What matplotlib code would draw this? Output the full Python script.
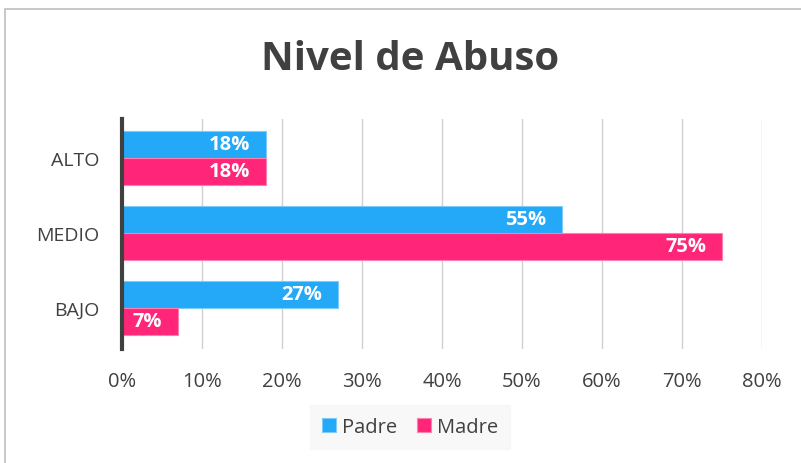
import matplotlib
matplotlib.use("Agg")
import matplotlib.pyplot as plt
import numpy as np
from matplotlib.patches import Rectangle

categories = ["ALTO", "MEDIO", "BAJO"]
padre = [18, 55, 27]
madre = [18, 75, 7]
xticks = [0, 10, 20, 30, 40, 50, 60, 70, 80]
blue = "#24A8F8"
pink = "#FF2679"

plt.rcParams['font.family'] = ['Open Sans', 'DejaVu Sans']

fig = plt.figure(figsize=(8.01, 4.64), dpi=100)
W, H = 801, 464
ax = fig.add_axes([122 / W, 1 - 350 / H, (762 - 122) / W, (350 - 120) / H])

y = np.arange(len(categories))
h = 0.36
b1 = ax.barh(y - h / 2, padre, height=h, color=blue, edgecolor="#7FCBFA", linewidth=0.8, label="Padre", zorder=3)
b2 = ax.barh(y + h / 2, madre, height=h, color=pink, edgecolor="#FF7FAE", linewidth=0.8, label="Madre", zorder=3)

for bars, vals in ((b1, padre), (b2, madre)):
    for r, v in zip(bars, vals):
        ax.text(v - 2.0, r.get_y() + r.get_height() / 2, f"{v}%", ha="right", va="center",
                color="white", fontsize=14.5, fontweight="bold", zorder=4)

ax.set_xlim(0, 80)
ax.set_ylim(2.55, -0.52)
ax.set_xticks(xticks)
ax.set_xticklabels([f"{t}%" for t in xticks], fontsize=14.5, color="#404040")
ax.set_yticks(y)
ax.set_yticklabels(categories, fontsize=14, color="#404040")
ax.tick_params(axis="x", length=0, pad=16)
ax.tick_params(axis="y", length=0, pad=16)
ax.grid(axis="x", color="#D0D0D0", linewidth=1, zorder=0)
for s in ("top", "right", "bottom"):
    ax.spines[s].set_visible(False)
ax.spines["left"].set_color("#404040")
ax.spines["left"].set_linewidth(3)
ax.spines["left"].set_zorder(5)

fig.text(410 / W, 1 - 60 / H, "Nivel de Abuso", ha="center", va="center", fontsize=29,
         fontweight="bold", color="#404040")

# chart border
fig.patches.append(Rectangle((5 / W, -0.1), 1.2, 1 - 10 / H + 0.1, transform=fig.transFigure,
                             fill=False, edgecolor="#BFBFBF", linewidth=1.2))

leg = fig.legend(handles=[b1, b2], labels=["Padre", "Madre"], loc="center",
                 bbox_to_anchor=(410 / W, 1 - 428 / H), ncol=2, frameon=True,
                 fontsize=14.5, handlelength=0.7, handleheight=0.7, handletextpad=0.3,
                 columnspacing=1.0, borderpad=0.6, fancybox=False)
leg.get_frame().set_facecolor("#F7F7F7")
leg.get_frame().set_edgecolor("#F7F7F7")
for t in leg.get_texts():
    t.set_color("#404040")

fig.savefig("out.png", dpi=100)
